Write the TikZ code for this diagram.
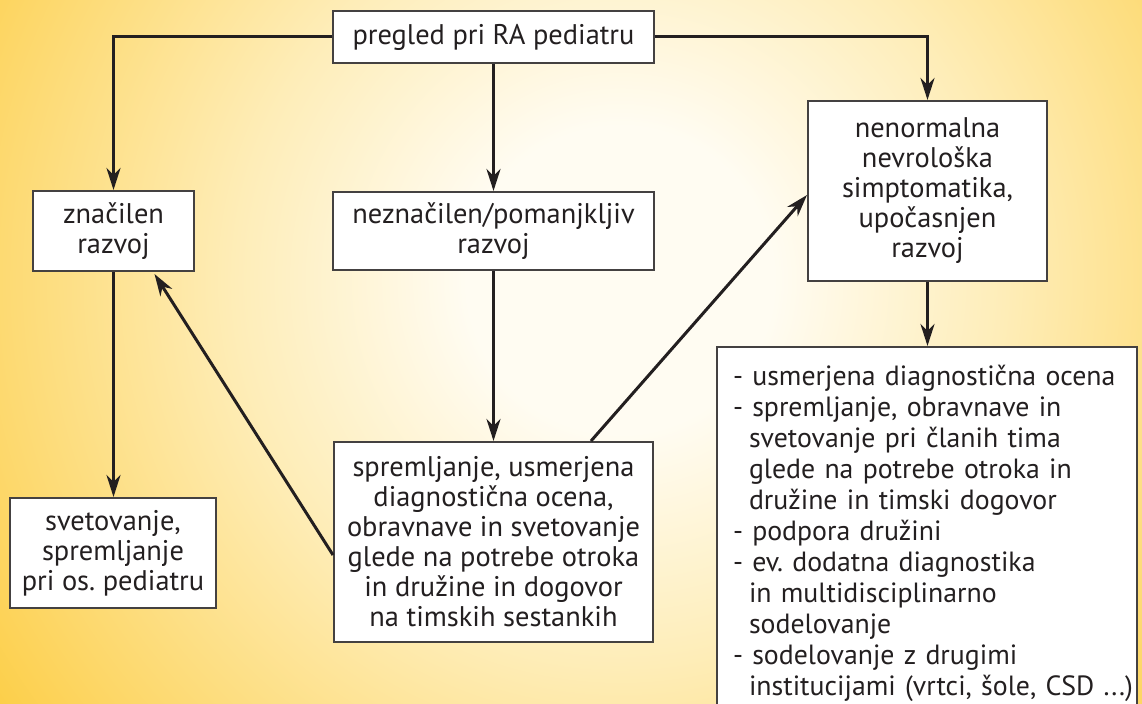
\documentclass[tikz,border=0pt]{standalone}
\usepackage{fontspec}
\setmainfont{PT Sans}
\usetikzlibrary{arrows.meta,shadows}
\definecolor{bgY}{HTML}{FBC115}
\definecolor{bgW}{HTML}{FFFCF2}
\definecolor{bgM}{HTML}{FEEDB8}
\definecolor{bgN}{HTML}{FDD768}
\definecolor{ink}{HTML}{231F20}
\pgfdeclareradialshading{bgshade}{\pgfpoint{0bp}{0bp}}{color(0bp)=(bgW); color(4bp)=(bgW); color(10bp)=(bgM); color(17bp)=(bgN); color(24bp)=(bgY); color(50bp)=(bgY)}
\newcommand{\itm}{\hspace*{8pt}}
\newcommand{\cnt}{\hspace*{16pt}}
\frenchspacing
\begin{document}
\begin{tikzpicture}[x=0.5pt,y=-0.5pt,
  box/.style={draw=ink!85, line width=1pt, fill=white, align=center, inner sep=0pt,
    font=\fontsize{14.2}{15}\selectfont\frenchspacing, text=ink},
  arr/.style={draw=ink, line width=1.5pt, -{Stealth[length=11pt,width=7pt,inset=3.5pt]}}]
\useasboundingbox (0,0) rectangle (1142,704);
\begin{scope}
\clip (0,0) rectangle (1142,704);
\shade[shading=bgshade] (620,280) circle[radius=480pt];
\node[box, minimum width=160.5pt, minimum height=26pt] (top) at (493.5,37) {pregled pri RA pediatru};
\node[box, minimum width=80.5pt, minimum height=40pt] (zn) at (113.5,231) {značilen\\razvoj};
\node[box, minimum width=160.5pt, minimum height=39pt] (nez) at (493.5,231) {neznačilen/pomanjkljiv\\razvoj};
\node[box, minimum width=119.5pt, minimum height=90pt] (nen) at (927.5,191) {nenormalna\\nevrološka\\simptomatika,\\upočasnjen\\razvoj};
\node[box, minimum width=103pt, minimum height=55pt] (svet) at (113,553) {svetovanje,\\spremljanje\\pri os. pediatru};
\node[box, minimum width=159.5pt, minimum height=100pt] (sprem) at (493.5,542) {spremljanje, usmerjena\\diagnostična ocena,\\obravnave in svetovanje\\glede na potrebe otroka\\in družine in dogovor\\na timskih sestankih};
\node[box, align=left, text width=210pt, inner xsep=0pt, minimum height=186.5pt,
  font=\fontsize{13.9}{15.5}\selectfont\frenchspacing] (list) at (927,533.5) {%
\itm- usmerjena diagnostična ocena\\
\itm- spremljanje, obravnave in\\
\cnt svetovanje pri članih tima\\
\cnt glede na potrebe otroka in\\
\cnt družine in timski dogovor\\
\itm- podpora družini\\
\itm- ev. dodatna diagnostika\\
\cnt in multidisciplinarno\\
\cnt sodelovanje\\
\itm- sodelovanje z drugimi\\
\cnt\mbox{institucijami (vrtci, šole, CSD ...)}};
\draw[arr] (top.west) -| (zn.north);
\draw[arr] (top.east) -| (nen.north);
\draw[arr] (top.south) -- (nez.north);
\draw[arr] (nez.south) -- (sprem.north);
\draw[arr] (zn.south) -- (zn.south |- svet.north);
\draw[arr] (nen.south) -- (nen.south |- list.north);
\draw[arr] ([yshift=-6.5pt]sprem.west) -- ([xshift=20.5pt,yshift=-1pt]zn.south);
\draw[arr] ([xshift=48.75pt]sprem.north) -- ([yshift=-2pt]nen.west);
\end{scope}
\end{tikzpicture}
\end{document}
